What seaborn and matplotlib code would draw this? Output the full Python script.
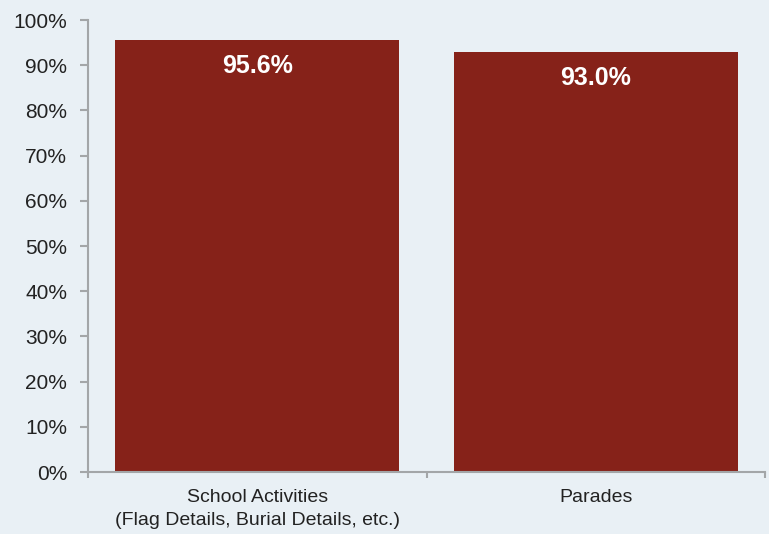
import matplotlib
matplotlib.use('Agg')
import matplotlib.pyplot as plt
import seaborn as sns
import pandas as pd

categories = ['School Activities\n(Flag Details, Burial Details, etc.)', 'Parades']
values = [95.6, 93.0]
bar_labels = ['95.6%', '93.0%']
yticks = [0, 10, 20, 30, 40, 50, 60, 70, 80, 90, 100]

bg = '#e9f0f5'
bar_color = '#862219'
spine_color = '#a3a6a8'

sns.set_theme(style='white')
plt.rcParams['font.family'] = ['Liberation Sans', 'DejaVu Sans']

df = pd.DataFrame({'cat': categories, 'val': values})

fig = plt.figure(figsize=(7.69, 5.34), dpi=100, facecolor=bg)
ax = fig.add_axes([88 / 769, 1 - 472 / 534, (765 - 88) / 769, (472 - 20) / 534])
ax.set_facecolor(bg)

sns.barplot(data=df, x='cat', y='val', ax=ax, color=bar_color,
            saturation=1, width=0.84, edgecolor='none')

# value labels inside bar tops
for i, (v, lab) in enumerate(zip(values, bar_labels)):
    ax.annotate(lab, (i, v), xytext=(0, -19), textcoords='offset points',
                ha='center', va='center', color='white', fontsize=18,
                fontweight='bold',
                family=['Liberation Sans Narrow', 'Liberation Sans'])

ax.set_xlim(-0.5, 1.5)
ax.set_ylim(0, 100)
ax.set_yticks(yticks)
ax.set_yticklabels(['{}%'.format(t) for t in yticks])
ax.set_xticks([-0.5, 0.5, 1.5])
ax.set_xticklabels([])
ax.set_xticks([0, 1], minor=True)
ax.set_xticklabels(categories, minor=True, linespacing=1.45)
ax.set_xlabel('')
ax.set_ylabel('')

for s in ['top', 'right']:
    ax.spines[s].set_visible(False)
for s in ['left', 'bottom']:
    ax.spines[s].set_color(spine_color)
    ax.spines[s].set_linewidth(1.5)

ax.tick_params(axis='y', which='major', left=True, length=6, width=1.5,
               color=spine_color, labelsize=15, labelcolor='#222222', pad=9)
ax.tick_params(axis='x', which='major', bottom=True, length=4, width=1.5,
               color=spine_color)
ax.tick_params(axis='x', which='minor', bottom=True, length=0,
               labelsize=14, labelcolor='#222222', pad=12)

plt.savefig('out.png', dpi=100, facecolor=bg)
